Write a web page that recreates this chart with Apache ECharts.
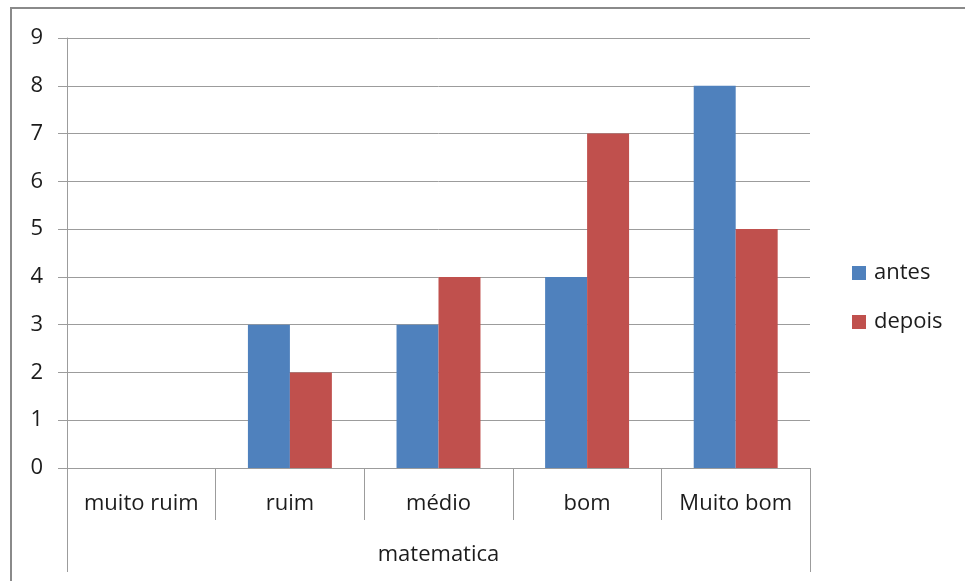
<!DOCTYPE html>
<html>
<head>
<meta charset="utf-8">
<script src="https://cdn.jsdelivr.net/npm/echarts@6/dist/echarts.min.js"></script>
<style>
  html, body { margin: 0; padding: 0; background: #fff; }
  #chart { width: 965px; height: 581px; }
</style>
</head>
<body>
<div id="chart"></div>
<script>
// Avaliação de matemática, antes e depois
const categories = ['muito ruim', 'ruim', 'médio', 'bom', 'Muito bom'];
const groupLabel = ['matematica'];
const antes = [0, 3, 3, 4, 8];
const depois = [0, 2, 4, 7, 5];
const seriesNames = ['antes', 'depois'];

const FONT = '"Open Sans", "Noto Sans", sans-serif';
const TEXT = '#1c1c1c';
const LINE = '#9c9c9c';
const FS = 22;

const chart = echarts.init(document.getElementById('chart'), null, { renderer: 'canvas' });

chart.setOption({
  animation: false,
  backgroundColor: '#ffffff',
  textStyle: { fontFamily: FONT },
  graphic: [{
    type: 'rect',
    shape: { x: 11, y: 8, width: 1000, height: 700 },
    style: { fill: 'none', stroke: '#8a8a8a', lineWidth: 2 },
    silent: true,
    z: 100
  }],
  grid: { left: 67, right: 155, top: 38, bottom: 113, containLabel: false },
  legend: {
    orient: 'vertical',
    left: 852,
    top: 262,
    padding: 0,
    itemWidth: 14,
    itemHeight: 14,
    itemGap: 27,
    icon: 'rect',
    textStyle: { fontFamily: FONT, fontSize: FS, color: TEXT, lineHeight: 22, padding: [0, 0, 0, 3] },
    data: seriesNames
  },
  xAxis: [{
    type: 'category',
    data: categories,
    position: 'bottom',
    axisLine: { show: true, lineStyle: { color: LINE, width: 1 } },
    axisTick: { show: true, alignWithLabel: false, length: 52, lineStyle: { color: LINE, width: 1 } },
    axisLabel: { margin: 25, fontFamily: FONT, fontSize: FS, color: TEXT, interval: 0 },
    splitLine: { show: false }
  }, {
    type: 'category',
    data: groupLabel,
    position: 'bottom',
    axisLine: { show: false },
    axisTick: { show: true, alignWithLabel: false, length: 104, lineStyle: { color: LINE, width: 1 } },
    axisLabel: { margin: 76, fontFamily: FONT, fontSize: FS, color: TEXT },
    splitLine: { show: false }
  }],
  yAxis: {
    type: 'value',
    min: 0,
    max: 9,
    interval: 1,
    axisLine: { show: true, lineStyle: { color: LINE, width: 1 } },
    axisTick: { show: true, length: 9, lineStyle: { color: LINE, width: 1 } },
    axisLabel: { margin: 24, fontFamily: FONT, fontSize: FS, color: TEXT },
    splitLine: { show: true, lineStyle: { color: LINE, width: 1 } }
  },
  series: [{
    name: seriesNames[0],
    type: 'bar',
    data: antes,
    barGap: '0%',
    barCategoryGap: '43.5%',
    itemStyle: { color: '#4f81bd' }
  }, {
    name: seriesNames[1],
    type: 'bar',
    data: depois,
    barGap: '0%',
    barCategoryGap: '43.5%',
    itemStyle: { color: '#c0504d' }
  }]
});
</script>
</body>
</html>
